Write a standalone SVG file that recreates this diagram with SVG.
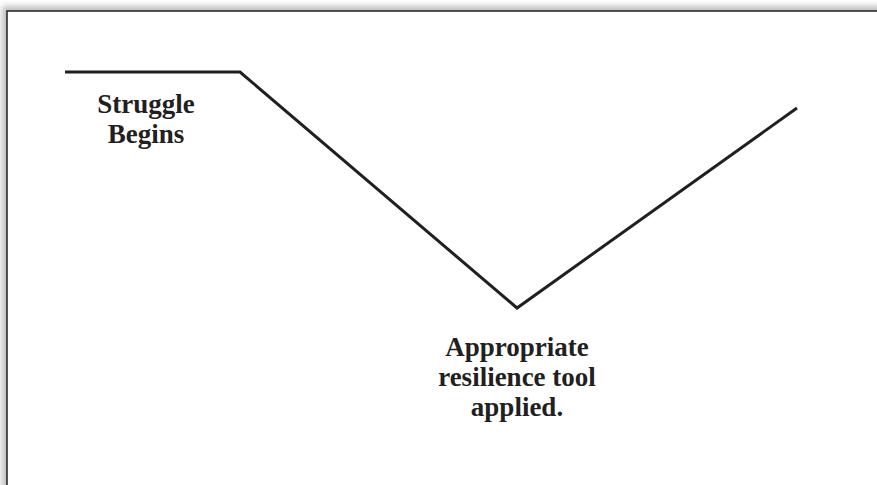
<svg xmlns="http://www.w3.org/2000/svg" width="877" height="485" viewBox="0 0 877 485">
  <defs>
    <filter id="shadow" x="-0.05" y="-0.05" width="1.1" height="1.1">
      <feGaussianBlur stdDeviation="3"/>
    </filter>
    <style>
      .lbl { font-family: "Liberation Serif", "DejaVu Serif", serif; font-weight: bold; font-size: 27px; fill: #231f20; text-anchor: middle; }
      .curve { fill: none; stroke: #231f20; stroke-width: 3; stroke-linejoin: miter; }
    </style>
  </defs>
  <rect x="0" y="0" width="877" height="485" fill="#ffffff"/>
  <g id="frame">
    <rect x="2" y="6" width="900" height="500" fill="#bdbdbd" filter="url(#shadow)"/>
    <rect x="7" y="11" width="900" height="500" fill="#ffffff" stroke="#231f20" stroke-width="1.5"/>
  </g>
  <g id="connectors">
    <polyline class="curve" points="65,72 240,72 517,308 797,108"/>
  </g>
  <g id="struggle-begins">
    <text class="lbl" x="146" y="113">Struggle</text>
    <text class="lbl" x="146" y="143">Begins</text>
  </g>
  <g id="tool-applied">
    <text class="lbl" x="517" y="356">Appropriate</text>
    <text class="lbl" x="517" y="386">resilience tool</text>
    <text class="lbl" x="517" y="416">applied.</text>
  </g>
</svg>
